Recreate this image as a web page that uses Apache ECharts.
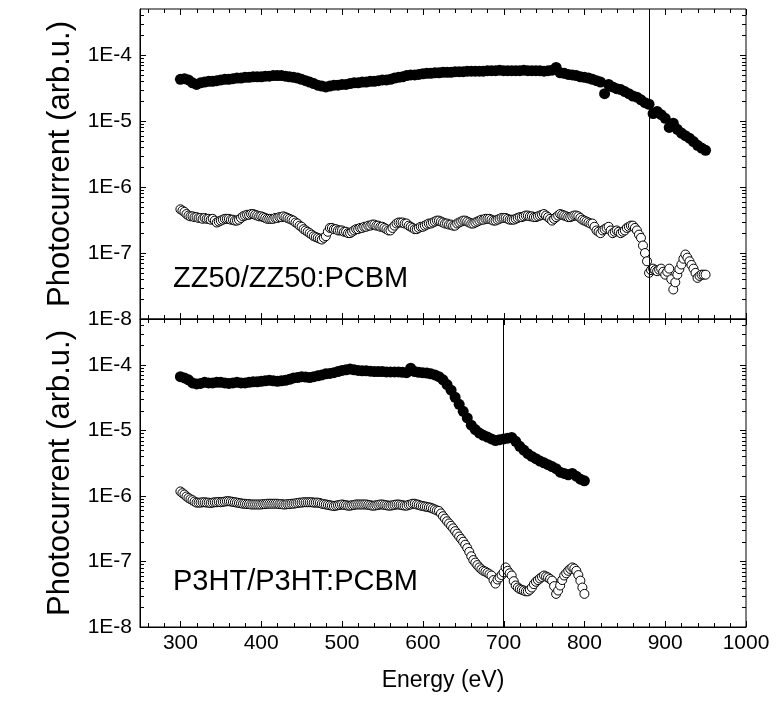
<!DOCTYPE html>
<html>
<head>
<meta charset="utf-8">
<script src="https://cdn.jsdelivr.net/npm/echarts@6/dist/echarts.min.js"></script>
<style>
html,body{margin:0;padding:0;background:#fff;}
#chart{width:783px;height:707px;}
</style>
</head>
<body>
<div id="chart"></div>
<script>
// ---------------- DATA ----------------
// ZZ50/ZZ50:PCBM – filled circles (5 eV sampling)
const energyZZFilled = [300,305,310,315,320,325,330,335,340,345,350,355,360,365,370,375,380,385,390,395,400,405,410,415,420,425,430,435,440,445,450,455,460,465,470,475,480,485,490,495,500,505,510,515,520,525,530,535,540,545,550,555,560,565,570,575,580,585,590,595,600,605,610,615,620,625,630,635,640,645,650,655,660,665,670,675,680,685,690,695,700,705,710,715,720,725,730,735,740,745,750,755,760,765,770,775,780,785,790,795,800,805,810,815,820,825,830,835,840,845,850,855,860,865,870,875,880,885,890,895,900,905,910,915,920,925,930,935,940,945,950];
const zzFilled = [4.3e-5,4.4e-5,4.2e-5,3.8e-5,3.6e-5,3.8e-5,3.9e-5,4.0e-5,4.0e-5,4.1e-5,4.2e-5,4.3e-5,4.3e-5,4.4e-5,4.5e-5,4.5e-5,4.6e-5,4.6e-5,4.7e-5,4.7e-5,4.7e-5,4.8e-5,4.8e-5,4.9e-5,4.9e-5,4.9e-5,4.8e-5,4.7e-5,4.6e-5,4.5e-5,4.3e-5,4.1e-5,3.9e-5,3.7e-5,3.5e-5,3.4e-5,3.3e-5,3.4e-5,3.5e-5,3.5e-5,3.6e-5,3.6e-5,3.7e-5,3.8e-5,3.8e-5,3.9e-5,3.9e-5,4.0e-5,4.0e-5,4.1e-5,4.2e-5,4.2e-5,4.3e-5,4.5e-5,4.6e-5,4.7e-5,4.9e-5,5.0e-5,5.0e-5,5.1e-5,5.2e-5,5.3e-5,5.3e-5,5.4e-5,5.4e-5,5.5e-5,5.5e-5,5.5e-5,5.6e-5,5.6e-5,5.6e-5,5.7e-5,5.7e-5,5.7e-5,5.7e-5,5.7e-5,5.8e-5,5.8e-5,5.8e-5,5.9e-5,5.8e-5,5.8e-5,5.8e-5,5.8e-5,5.8e-5,5.9e-5,5.8e-5,5.8e-5,5.8e-5,5.8e-5,5.7e-5,5.8e-5,5.9e-5,6.5e-5,5.4e-5,5.3e-5,5.1e-5,5.0e-5,4.9e-5,4.7e-5,4.6e-5,4.5e-5,4.3e-5,4.1e-5,3.9e-5,2.6e-5,3.6e-5,3.3e-5,3.1e-5,3.0e-5,2.8e-5,2.6e-5,2.4e-5,2.3e-5,2.1e-5,1.9e-5,1.8e-5,1.3e-5,1.4e-5,1.25e-5,1.1e-5,8.0e-6,9.3e-6,7.5e-6,6.6e-6,6.0e-6,5.5e-6,4.9e-6,4.3e-6,3.9e-6,3.6e-6];

// ZZ50/ZZ50:PCBM – open circles (2.5 eV sampling)
const energyZZOpen = [300,302.5,305,307.5,310,312.5,315,317.5,320,322.5,325,327.5,330,332.5,335,337.5,340,342.5,345,347.5,350,352.5,355,357.5,360,362.5,365,367.5,370,372.5,375,377.5,380,382.5,385,387.5,390,392.5,395,397.5,400,402.5,405,407.5,410,412.5,415,417.5,420,422.5,425,427.5,430,432.5,435,437.5,440,442.5,445,447.5,450,452.5,455,457.5,460,462.5,465,467.5,470,472.5,475,477.5,480,482.5,485,487.5,490,492.5,495,497.5,500,502.5,505,507.5,510,512.5,515,517.5,520,522.5,525,527.5,530,532.5,535,537.5,540,542.5,545,547.5,550,552.5,555,557.5,560,562.5,565,567.5,570,572.5,575,577.5,580,582.5,585,587.5,590,592.5,595,597.5,600,602.5,605,607.5,610,612.5,615,617.5,620,622.5,625,627.5,630,632.5,635,637.5,640,642.5,645,647.5,650,652.5,655,657.5,660,662.5,665,667.5,670,672.5,675,677.5,680,682.5,685,687.5,690,692.5,695,697.5,700,702.5,705,707.5,710,712.5,715,717.5,720,722.5,725,727.5,730,732.5,735,737.5,740,742.5,745,747.5,750,752.5,755,757.5,760,762.5,765,767.5,770,772.5,775,777.5,780,782.5,785,787.5,790,792.5,795,797.5,800,802.5,805,807.5,810,812.5,815,817.5,820,822.5,825,827.5,830,832.5,835,837.5,840,842.5,845,847.5,850,852.5,855,857.5,860,862.5,865,867.5,870,872.5,875,877.5,880,882.5,885,887.5,890,892.5,895,897.5,900,902.5,905,907.5,910,912.5,915,917.5,920,922.5,925,927.5,930,932.5,935,937.5,940,942.5,945,947.5,950];
const zzOpen = [
4.6e-7,4.4e-7,4.2e-7,3.9e-7,3.7e-7,3.6e-7,3.6e-7,3.5e-7,3.5e-7,3.4e-7,
3.4e-7,3.3e-7,3.4e-7,3.3e-7,3.3e-7,3.2e-7,3.3e-7,3.1e-7,2.9e-7,3.0e-7,
3.1e-7,3.2e-7,3.3e-7,3.3e-7,3.3e-7,3.2e-7,3.2e-7,3.1e-7,3.1e-7,3.2e-7,
3.4e-7,3.6e-7,3.7e-7,3.8e-7,3.8e-7,3.9e-7,3.9e-7,3.8e-7,3.7e-7,3.6e-7,
3.6e-7,3.5e-7,3.4e-7,3.3e-7,3.3e-7,3.3e-7,3.3e-7,3.4e-7,3.4e-7,3.5e-7,
3.5e-7,3.6e-7,3.5e-7,3.4e-7,3.3e-7,3.2e-7,3.1e-7,2.9e-7,2.8e-7,2.6e-7,
2.5e-7,2.3e-7,2.2e-7,2.1e-7,2.0e-7,1.9e-7,1.8e-7,1.75e-7,1.7e-7,1.65e-7,
1.6e-7,1.7e-7,1.8e-7,2.1e-7,2.4e-7,2.4e-7,2.3e-7,2.3e-7,2.2e-7,2.2e-7,
2.2e-7,2.1e-7,2.1e-7,2.0e-7,2.0e-7,2.1e-7,2.2e-7,2.3e-7,2.3e-7,2.4e-7,
2.4e-7,2.5e-7,2.5e-7,2.6e-7,2.6e-7,2.7e-7,2.7e-7,2.6e-7,2.6e-7,2.5e-7,
2.5e-7,2.4e-7,2.3e-7,2.2e-7,2.2e-7,2.4e-7,2.6e-7,2.8e-7,2.9e-7,2.9e-7,
2.9e-7,2.8e-7,2.8e-7,2.6e-7,2.5e-7,2.4e-7,2.3e-7,2.3e-7,2.4e-7,2.5e-7,
2.5e-7,2.6e-7,2.7e-7,2.8e-7,2.8e-7,2.9e-7,3.0e-7,3.1e-7,3.1e-7,3.0e-7,
2.9e-7,2.8e-7,2.8e-7,2.7e-7,2.7e-7,2.6e-7,2.6e-7,2.8e-7,2.9e-7,3.0e-7,
3.1e-7,3.1e-7,3.0e-7,2.9e-7,2.8e-7,2.8e-7,2.9e-7,3.0e-7,3.1e-7,3.2e-7,
3.2e-7,3.3e-7,3.3e-7,3.3e-7,3.2e-7,3.1e-7,3.1e-7,3.2e-7,3.3e-7,3.4e-7,
3.4e-7,3.4e-7,3.3e-7,3.2e-7,3.2e-7,3.2e-7,3.3e-7,3.4e-7,3.5e-7,3.5e-7,
3.6e-7,3.7e-7,3.7e-7,3.6e-7,3.6e-7,3.5e-7,3.5e-7,3.6e-7,3.7e-7,3.8e-7,
3.9e-7,3.7e-7,3.5e-7,3.3e-7,3.1e-7,3.3e-7,3.5e-7,3.7e-7,3.9e-7,3.8e-7,
3.7e-7,3.6e-7,3.5e-7,3.5e-7,3.6e-7,3.7e-7,3.7e-7,3.6e-7,3.4e-7,3.2e-7,
3.1e-7,3.0e-7,2.9e-7,2.8e-7,2.8e-7,2.5e-7,2.2e-7,2.1e-7,2.0e-7,2.2e-7,
2.3e-7,2.4e-7,2.5e-7,2.2e-7,2.0e-7,2.1e-7,2.2e-7,2.1e-7,2.0e-7,2.1e-7,
2.2e-7,2.4e-7,2.5e-7,2.6e-7,2.6e-7,2.4e-7,2.2e-7,1.9e-7,1.7e-7,1.3e-7,
1.0e-7,7.5e-8,5.0e-8,5.5e-8,5.8e-8,5.5e-8,5.3e-8,5.6e-8,5.8e-8,5.2e-8,
4.7e-8,5.2e-8,5.8e-8,4.0e-8,2.8e-8,3.6e-8,4.7e-8,5.7e-8,6.7e-8,8.2e-8,
9.5e-8,8.5e-8,7.5e-8,6.6e-8,5.8e-8,5.0e-8,4.2e-8,4.5e-8,4.7e-8,4.7e-8,
4.7e-8];

// P3HT/P3HT:PCBM – filled circles (5 eV sampling)
const energyP3Filled = [300,305,310,315,320,325,330,335,340,345,350,355,360,365,370,375,380,385,390,395,400,405,410,415,420,425,430,435,440,445,450,455,460,465,470,475,480,485,490,495,500,505,510,515,520,525,530,535,540,545,550,555,560,565,570,575,580,585,590,595,600,605,610,615,620,625,630,635,640,645,650,655,660,665,670,675,680,685,690,695,700,705,710,715,720,725,730,735,740,745,750,755,760,765,770,775,780,785,790,795,800];
const p3Filled = [6.6e-5,6.3e-5,5.9e-5,5.3e-5,5.1e-5,5.2e-5,5.4e-5,5.3e-5,5.3e-5,5.4e-5,5.4e-5,5.3e-5,5.2e-5,5.3e-5,5.4e-5,5.3e-5,5.3e-5,5.4e-5,5.5e-5,5.5e-5,5.6e-5,5.7e-5,5.8e-5,5.7e-5,5.6e-5,5.7e-5,5.8e-5,6.0e-5,6.3e-5,6.4e-5,6.6e-5,6.5e-5,6.4e-5,6.6e-5,6.8e-5,7.0e-5,7.3e-5,7.4e-5,7.6e-5,7.9e-5,8.2e-5,8.4e-5,8.6e-5,8.4e-5,8.2e-5,8.1e-5,8.1e-5,8.0e-5,7.9e-5,7.9e-5,7.9e-5,7.8e-5,7.8e-5,7.8e-5,7.8e-5,7.7e-5,7.6e-5,8.9e-5,7.9e-5,7.7e-5,7.6e-5,7.5e-5,7.3e-5,7.0e-5,6.6e-5,5.9e-5,5.0e-5,4.1e-5,3.2e-5,2.5e-5,1.95e-5,1.55e-5,1.2e-5,1.03e-5,9.1e-6,8.4e-6,7.9e-6,7.4e-6,7.0e-6,7.2e-6,7.4e-6,7.6e-6,7.8e-6,6.8e-6,5.7e-6,5.0e-6,4.4e-6,4.0e-6,3.7e-6,3.4e-6,3.2e-6,3.0e-6,2.8e-6,2.6e-6,2.3e-6,2.2e-6,2.1e-6,2.2e-6,2.0e-6,1.8e-6,1.7e-6];

// P3HT/P3HT:PCBM – open circles (2.5 eV sampling)
const energyP3Open = [300,302.5,305,307.5,310,312.5,315,317.5,320,322.5,325,327.5,330,332.5,335,337.5,340,342.5,345,347.5,350,352.5,355,357.5,360,362.5,365,367.5,370,372.5,375,377.5,380,382.5,385,387.5,390,392.5,395,397.5,400,402.5,405,407.5,410,412.5,415,417.5,420,422.5,425,427.5,430,432.5,435,437.5,440,442.5,445,447.5,450,452.5,455,457.5,460,462.5,465,467.5,470,472.5,475,477.5,480,482.5,485,487.5,490,492.5,495,497.5,500,502.5,505,507.5,510,512.5,515,517.5,520,522.5,525,527.5,530,532.5,535,537.5,540,542.5,545,547.5,550,552.5,555,557.5,560,562.5,565,567.5,570,572.5,575,577.5,580,582.5,585,587.5,590,592.5,595,597.5,600,602.5,605,607.5,610,612.5,615,617.5,620,622.5,625,627.5,630,632.5,635,637.5,640,642.5,645,647.5,650,652.5,655,657.5,660,662.5,665,667.5,670,672.5,675,677.5,680,682.5,685,687.5,690,692.5,695,697.5,700,702.5,705,707.5,710,712.5,715,717.5,720,722.5,725,727.5,730,732.5,735,737.5,740,742.5,745,747.5,750,752.5,755,757.5,760,762.5,765,767.5,770,772.5,775,777.5,780,782.5,785,787.5,790,792.5,795,797.5,800];
const p3Open = [
1.17e-6,1.10e-6,1.05e-6,9.8e-7,9.3e-7,8.9e-7,8.6e-7,8.2e-7,7.9e-7,7.9e-7,
7.9e-7,8.0e-7,8.0e-7,7.9e-7,7.9e-7,7.8e-7,7.9e-7,8.0e-7,8.0e-7,8.1e-7,
8.0e-7,8.1e-7,8.2e-7,8.3e-7,8.3e-7,8.2e-7,8.1e-7,8.0e-7,7.9e-7,7.8e-7,
7.7e-7,7.6e-7,7.6e-7,7.5e-7,7.5e-7,7.4e-7,7.4e-7,7.4e-7,7.4e-7,7.4e-7,
7.4e-7,7.5e-7,7.5e-7,7.6e-7,7.6e-7,7.6e-7,7.6e-7,7.6e-7,7.6e-7,7.5e-7,
7.5e-7,7.4e-7,7.4e-7,7.5e-7,7.5e-7,7.6e-7,7.6e-7,7.7e-7,7.8e-7,7.9e-7,
7.9e-7,8.0e-7,8.0e-7,8.0e-7,8.0e-7,8.0e-7,7.9e-7,7.9e-7,7.9e-7,7.8e-7,
7.6e-7,7.5e-7,7.4e-7,7.3e-7,7.2e-7,7.1e-7,7.0e-7,7.1e-7,7.2e-7,7.3e-7,
7.4e-7,7.3e-7,7.2e-7,7.1e-7,7.1e-7,7.2e-7,7.3e-7,7.4e-7,7.4e-7,7.4e-7,
7.4e-7,7.4e-7,7.4e-7,7.3e-7,7.2e-7,7.1e-7,7.1e-7,7.2e-7,7.3e-7,7.4e-7,
7.4e-7,7.3e-7,7.2e-7,7.1e-7,7.1e-7,7.2e-7,7.3e-7,7.4e-7,7.4e-7,7.3e-7,
7.2e-7,7.1e-7,7.1e-7,7.3e-7,7.4e-7,7.6e-7,7.6e-7,7.4e-7,7.3e-7,7.1e-7,
7.0e-7,6.9e-7,6.8e-7,6.7e-7,6.6e-7,6.4e-7,6.2e-7,6.0e-7,5.9e-7,5.4e-7,
4.9e-7,4.5e-7,4.1e-7,3.8e-7,3.5e-7,3.2e-7,2.9e-7,2.65e-7,2.4e-7,2.2e-7,
2.0e-7,1.8e-7,1.6e-7,1.4e-7,1.2e-7,1.05e-7,9.6e-8,8.8e-8,8.1e-8,7.6e-8,
7.2e-8,7.0e-8,6.7e-8,6.4e-8,6.1e-8,5.2e-8,4.6e-8,5.3e-8,5.7e-8,6.2e-8,
6.8e-8,8.1e-8,7.2e-8,6.6e-8,6.1e-8,5.0e-8,4.3e-8,4.0e-8,3.8e-8,3.7e-8,
3.6e-8,3.5e-8,3.5e-8,3.7e-8,4.0e-8,4.5e-8,4.9e-8,5.2e-8,5.5e-8,5.8e-8,
6.1e-8,5.9e-8,5.7e-8,5.4e-8,5.1e-8,4.2e-8,3.2e-8,3.6e-8,4.3e-8,5.2e-8,
6.1e-8,6.6e-8,7.2e-8,7.7e-8,8.1e-8,7.8e-8,7.2e-8,6.2e-8,5.1e-8,4.0e-8,
3.2e-8];

const xTickLabels = [300,400,500,600,700,800,900,1000];
const xMajorTicks = [300,400,500,600,700,800,900,1000];
const xMinorTicks = [260,280,320,340,360,380,420,440,460,480,520,540,560,580,620,640,660,680,720,740,760,780,820,840,860,880,920,940,960,980];
const yDecades = [1e-8,1e-7,1e-6,1e-5,1e-4];
const yMinorMantissas = [2,3,4,5,6,7,8,9];
const cutoffTop = 880;
const cutoffBottom = 700;
const labelTop = 'ZZ50/ZZ50:PCBM';
const labelBottom = 'P3HT/P3HT:PCBM';
const yTitle = 'Photocurrent (arb.u.)';
const xTitle = 'Energy (eV)';

// ---------------- BUILD ----------------
const FONT = 'Liberation Sans, Arial, Helvetica, sans-serif';
const XMIN = 250, XMAX = 1000, YMIN = 1e-8, YMAX = 5e-4;

function pairs(xs, ys){ return xs.map((x,i)=>[x, ys[i]]); }

function tickData(){
  const d = [];
  xMajorTicks.forEach(v=>d.push([v, YMIN, 0]));
  xMinorTicks.forEach(v=>d.push([v, YMIN, 1]));
  yDecades.forEach(v=>d.push([XMIN, v, 2]));
  yDecades.forEach(dec=>yMinorMantissas.forEach(m=>{
    const v = dec*m; if (v < YMAX*0.999) d.push([XMIN, v, 3]);
  }));
  return d;
}

function tickRender(params, api){
  const cs = params.coordSys;
  const kind = api.value(2);
  const p = api.coord([api.value(0), api.value(1)]);
  const style = {stroke:'#000', lineWidth:1};
  const kids = [];
  if (kind === 0 || kind === 1){
    const L = kind === 0 ? 6 : 4;
    const x = Math.round(p[0]) + 0.5;
    kids.push({type:'line', shape:{x1:x, y1:cs.y+cs.height, x2:x, y2:cs.y+cs.height-L}, style});
    kids.push({type:'line', shape:{x1:x, y1:cs.y, x2:x, y2:cs.y+L}, style});
  } else {
    const L = kind === 2 ? 6 : 4;
    const y = Math.round(p[1]) + 0.5;
    kids.push({type:'line', shape:{x1:cs.x, y1:y, x2:cs.x+L, y2:y}, style});
    kids.push({type:'line', shape:{x1:cs.x+cs.width, y1:y, x2:cs.x+cs.width-L, y2:y}, style});
  }
  return {type:'group', children:kids};
}

function yLabel(v){
  const e = Math.log10(v); const r = Math.round(e);
  if (Math.abs(e - r) > 1e-6) return '';
  return '1E' + r;
}

function xAxisCfg(gi, showLabels){
  return {
    type:'value', gridIndex:gi, min:XMIN, max:XMAX, interval:50, position:'bottom',
    axisLine:{show:true, onZero:false, lineStyle:{color:'#000', width:1}},
    axisTick:{show:false}, splitLine:{show:false},
    axisLabel:{show:showLabels, color:'#000', fontSize:21, fontFamily:FONT, margin:6,
      formatter:v=> (xTickLabels.indexOf(v) >= 0 ? String(v) : '')},
    name: showLabels ? xTitle : '', nameLocation:'middle', nameGap:42,
    nameTextStyle:{color:'#000', fontSize:23, fontFamily:FONT}
  };
}
function yAxisCfg(gi){
  return {
    type:'log', logBase:10, gridIndex:gi, min:YMIN, max:YMAX, position:'left',
    axisLine:{show:true, onZero:false, lineStyle:{color:'#000', width:1}},
    axisTick:{show:false}, splitLine:{show:false}, minorTick:{show:false},
    axisLabel:{color:'#000', fontSize:21, fontFamily:FONT, margin:8, formatter:yLabel, showMaxLabel:false},
    name: yTitle, nameLocation:'middle', nameGap:64,
    nameTextStyle:{color:'#000', fontSize:31, fontFamily:FONT}
  };
}

function filledSeries(xi, data, cut){
  const s = {type:'scatter', xAxisIndex:xi, yAxisIndex:xi, data, symbol:'circle', symbolSize:11,
    itemStyle:{color:'#000', opacity:1}, silent:true, animation:false, z:3, large:false};
  if (cut != null){
    s.markLine = {symbol:'none', silent:true, animation:false, label:{show:false},
      lineStyle:{color:'#000', width:1, type:'solid'}, data:[{xAxis:cut}]};
  }
  return s;
}
function openSeries(xi, data){
  return {type:'scatter', xAxisIndex:xi, yAxisIndex:xi, data, symbol:'circle', symbolSize:9,
    itemStyle:{color:'#fff', borderColor:'#000', borderWidth:1, opacity:1}, silent:true, animation:false, z:3, large:false};
}
function tickSeries(xi){
  return {type:'custom', xAxisIndex:xi, yAxisIndex:xi, data:tickData(), renderItem:tickRender,
    silent:true, animation:false, z:5, clip:false};
}

const chart = echarts.init(document.getElementById('chart'), null, {renderer:'canvas'});
chart.setOption({
  backgroundColor:'#fff',
  animation:false,
  grid:[
    {left:140, top:9, width:606, height:310, show:true, borderColor:'#000', borderWidth:1, containLabel:false},
    {left:140, top:319, width:606, height:308, show:true, borderColor:'#000', borderWidth:1, containLabel:false}
  ],
  xAxis:[xAxisCfg(0,false), xAxisCfg(1,true)],
  yAxis:[yAxisCfg(0), yAxisCfg(1)],
  series:[
    openSeries(0, pairs(energyZZOpen, zzOpen)),
    filledSeries(0, pairs(energyZZFilled, zzFilled), cutoffTop),
    openSeries(1, pairs(energyP3Open, p3Open)),
    filledSeries(1, pairs(energyP3Filled, p3Filled), cutoffBottom),
    tickSeries(0),
    tickSeries(1)
  ],
  graphic:[
    {type:'text', left:173, top:264, silent:true, style:{text:labelTop, fill:'#000', font:'29px ' + FONT}},
    {type:'text', left:173, top:567, silent:true, style:{text:labelBottom, fill:'#000', font:'29px ' + FONT}}
  ]
});
</script>
</body>
</html>
